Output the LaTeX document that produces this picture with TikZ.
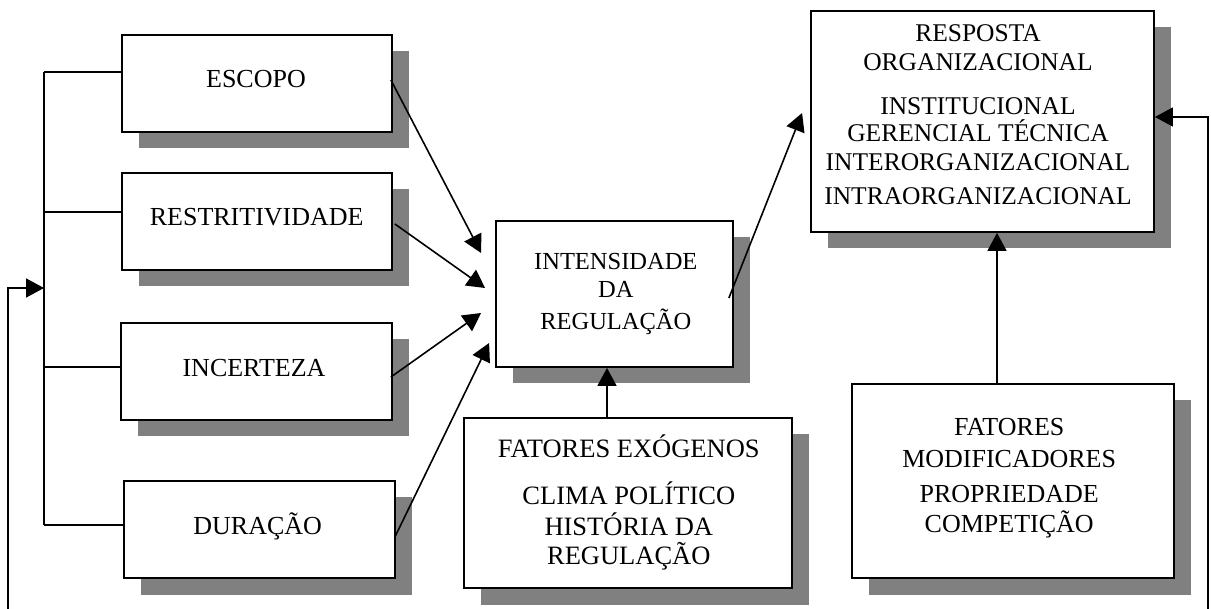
\documentclass[tikz,border=0pt]{standalone}
\usepackage{fontspec}
\setmainfont{Liberation Serif}
\usetikzlibrary{arrows.meta,shadows}
\definecolor{shadowgray}{RGB}{128,128,128}
\newcommand\mytop{\rule{0pt}{26pt}}
\tikzset{
  box/.style={draw=black, line width=1.8pt, fill=white, inner sep=0pt,
    drop shadow={shadow xshift=16.5pt, shadow yshift=-16.5pt, fill=shadowgray, opacity=1}},
  txt/.style={inner sep=0pt, anchor=north, align=center},
  conn/.style={line width=1.6pt},
  arr/.style={conn, -{Triangle[length=18pt,width=19pt]}},
}
\begin{document}
\begin{tikzpicture}[x=1pt,y=-1pt]
\useasboundingbox (0,0) rectangle (1211,609);
% boxes
\node[box, minimum width=270pt, minimum height=97pt] (escopo) at (257,83.5) {};
\node[box, minimum width=270pt, minimum height=97pt] (restr) at (257,221.5) {};
\node[box, minimum width=271pt, minimum height=97pt] (incert) at (256.5,371.5) {};
\node[box, minimum width=271pt, minimum height=97pt] (dur) at (259.5,529.5) {};
\node[box, minimum width=237pt, minimum height=146pt] (intens) at (614.5,294) {};
\node[box, minimum width=343pt, minimum height=221pt] (resp) at (982.5,121.5) {};
\node[box, minimum width=328pt, minimum height=170pt] (exo) at (628,503) {};
\node[box, minimum width=322pt, minimum height=194pt] (modif) at (1013,481) {};
% texts
\node[txt, font=\fontsize{26}{30}\selectfont] (escopoT) at (256,61.1) {\mytop ESCOPO};
\node[txt, font=\fontsize{26}{30}\selectfont] (restrT) at (256.7,199.6) {\mytop RESTRITIVIDADE};
\node[txt, font=\fontsize{26}{30}\selectfont] (incertT) at (254,350.6) {\mytop INCERTEZA};
\node[txt, font=\fontsize{26}{30}\selectfont] (durT) at (257.7,507.9) {\mytop DURAÇÃO};
\node[txt, font=\fontsize{24.5}{28}\selectfont] (intensT) at (615.8,243.4)
  {\mytop INTENSIDADE\\DA\\[4pt]REGULAÇÃO};
\node[txt, font=\fontsize{25.5}{28}\selectfont] (respT) at (978,15.6)
  {\mytop RESPOSTA\\[1pt]ORGANIZACIONAL\\[15.4pt]INSTITUCIONAL\\[-0.4pt]GERENCIAL TÉCNICA\\[0.4pt]INTERORGANIZACIONAL\\[6.3pt]INTRAORGANIZACIONAL};
\node[txt, font=\fontsize{26.5}{29}\selectfont] (exoT) at (628.8,431.1)
  {\mytop FATORES EXÓGENOS\\[17.7pt]CLIMA POLÍTICO\\[2.8pt]HISTÓRIA DA\\REGULAÇÃO};
\node[txt, font=\fontsize{26}{30}\selectfont] (modifT) at (1009.2,409.3)
  {\mytop FATORES\\[1.6pt]MODIFICADORES\\[5pt]PROPRIEDADE\\COMPETIÇÃO};
% left bracket
\coordinate (bt) at (44,72);
\coordinate (bb) at (44,525);
\draw[conn] (bt) -- (bb);
\draw[conn] (bt) -- ([yshift=11.5pt]escopo.west);
\draw[conn] (bt |- 0,212) -- ([yshift=9.5pt]restr.west);
\draw[conn] (bt |- 0,367) -- ([yshift=4.5pt]incert.west);
\draw[conn] (bb) -- ([yshift=4.5pt]dur.west);
% feedback left
\coordinate (fbL) at (8,609);
\coordinate (fbLt) at (44,288);
\draw[arr] (fbL) |- (fbLt);
% arrows into intensidade
\draw[arr] ([xshift=-2pt,yshift=3.5pt]escopo.east) -- ([xshift=-14pt,yshift=41pt]intens.west);
\draw[arr] ([xshift=2pt,yshift=-2.5pt]restr.east) -- ([xshift=-10pt,yshift=6pt]intens.west);
\draw[arr] ([xshift=-2pt,yshift=-5.5pt]incert.east) -- ([xshift=-14pt,yshift=-19pt]intens.west);
\draw[arr] ([xshift=-1pt,yshift=-7.5pt]dur.east) -- ([xshift=-6pt,yshift=-49pt]intens.west);
% intensidade -> resposta
\draw[arr] ([xshift=-5pt,yshift=-4pt]intens.east) -- ([xshift=-8pt,yshift=8.5pt]resp.west);
% exogenos -> intensidade
\draw[arr] ([xshift=-21pt]exo.north) -- ([xshift=-7.5pt]intens.south);
% modificadores -> resposta
\draw[arr] ([xshift=-16pt]modif.north) -- ([xshift=14.5pt]resp.south);
% feedback right
\coordinate (fbR) at (1208,609);
\draw[arr] (fbR) |- ([yshift=4.5pt]resp.east);
\end{tikzpicture}
\end{document}
